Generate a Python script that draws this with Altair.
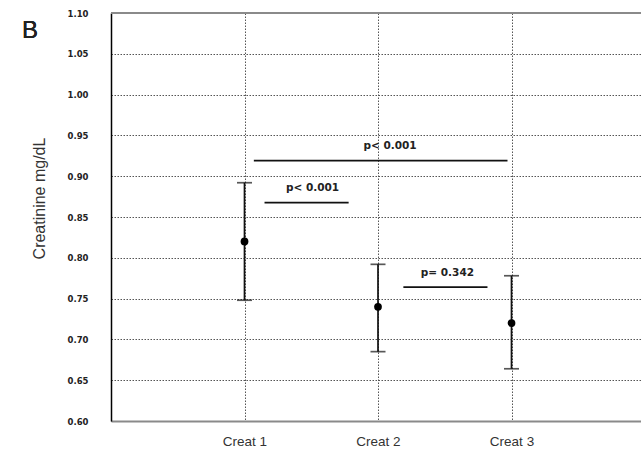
import altair as alt
import pandas as pd

# ---- data ----
categories = ["Creat 1", "Creat 2", "Creat 3"]
positions = [1, 2, 3]
means = [0.820, 0.740, 0.720]
upper = [0.892, 0.792, 0.778]
lower = [0.748, 0.685, 0.664]

bracket_start = [1.07, 1.15, 2.19]
bracket_end = [2.97, 1.78, 2.82]
bracket_level = [0.919, 0.8675, 0.764]
p_labels = ["p< 0.001", "p< 0.001", "p= 0.342"]
p_label_x = [2.09, 1.51, 2.52]
p_label_y = [0.937, 0.8855, 0.781]

y_ticks = [0.60, 0.65, 0.70, 0.75, 0.80, 0.85, 0.90, 0.95, 1.00, 1.05, 1.10]
y_title = "Creatinine mg/dL"
panel_letter = "B"

W, H = 530, 408
x_max = 3.97

df = pd.DataFrame({"cat": categories, "pos": positions, "mean": means,
                   "hi": upper, "lo": lower})
br = pd.DataFrame({"x0": bracket_start, "x1": bracket_end, "y": bracket_level})
pl = pd.DataFrame({"label": p_labels, "x": p_label_x, "y": p_label_y})

label_expr = " : ".join(
    [f"datum.value == {p} ? '{c}'" for p, c in zip(positions, categories)]) + " : ''"

xscale = alt.Scale(domain=[0, x_max], nice=False, zero=False)
yscale = alt.Scale(domain=[0.60, 1.10], nice=False, zero=False)

x_axis = alt.Axis(values=positions, labelExpr=label_expr, title=None,
                  grid=True, gridDash=[1.5, 1.5], gridColor="#555", gridWidth=1,
                  ticks=False, domainColor="#8a8a8a", domainWidth=2,
                  labelFont="Liberation Sans", labelFontSize=13.5,
                  labelColor="#333", labelPadding=13)
y_axis = alt.Axis(values=y_ticks, format=".2f", title=y_title,
                  grid=True, gridDash=[1.5, 1.5], gridColor="#555", gridWidth=1,
                  ticks=False, domainColor="#000", domainWidth=1.5,
                  labelFont="DejaVu Sans", labelFontSize=8.5,
                  labelFontWeight="bold", labelColor="#222",
                  labelPadding=23,
                  titleFont="Liberation Sans", titleFontSize=16,
                  titleFontWeight="normal", titleColor="#333",
                  titleAngle=-90, titleX=-72, titleY=185,
                  titleAlign="center", titleBaseline="middle")

base = alt.Chart(df)

errbars = base.mark_rule(color="#111", strokeWidth=1.7).encode(
    x=alt.X("pos:Q", scale=xscale, axis=x_axis),
    y=alt.Y("lo:Q", scale=yscale, axis=y_axis),
    y2="hi:Q")

caps_hi = base.mark_tick(orient="horizontal", color="#111", size=15,
                         thickness=1.7).encode(
    x=alt.X("pos:Q", scale=xscale), y=alt.Y("hi:Q", scale=yscale))
caps_lo = base.mark_tick(orient="horizontal", color="#111", size=15,
                         thickness=1.7).encode(
    x=alt.X("pos:Q", scale=xscale), y=alt.Y("lo:Q", scale=yscale))

points = base.mark_point(filled=True, color="#000", size=60, opacity=1).encode(
    x=alt.X("pos:Q", scale=xscale), y=alt.Y("mean:Q", scale=yscale))

brackets = alt.Chart(br).mark_rule(color="#111", strokeWidth=1.7).encode(
    x=alt.X("x0:Q", scale=xscale), x2="x1:Q",
    y=alt.Y("y:Q", scale=yscale))

ptext = alt.Chart(pl).mark_text(font="DejaVu Sans", fontSize=10.5,
                                fontWeight="bold", color="#222",
                                baseline="middle", align="center").encode(
    x=alt.X("x:Q", scale=xscale), y=alt.Y("y:Q", scale=yscale),
    text="label:N")

top_border = alt.Chart(df).mark_rule(color="#8a8a8a", strokeWidth=2).encode(
    y=alt.datum(1.10, scale=yscale))

letter = alt.Chart(df).mark_text(text=panel_letter, font="Liberation Sans",
                                 fontSize=24, fontWeight="normal",
                                 color="#222", align="center",
                                 baseline="middle").encode(
    x=alt.value(-81), y=alt.value(18))

chart = alt.layer(top_border, errbars, caps_hi, caps_lo, points, brackets,
                  ptext, letter).properties(
    width=W, height=H,
    padding={"left": 111, "top": 13, "right": 0, "bottom": 34},
    autosize=alt.AutoSizeParams(type="none"),
    background="white",
).configure_view(stroke=None)

chart.save("out.html", embed_options={"renderer": "svg", "actions": False})
